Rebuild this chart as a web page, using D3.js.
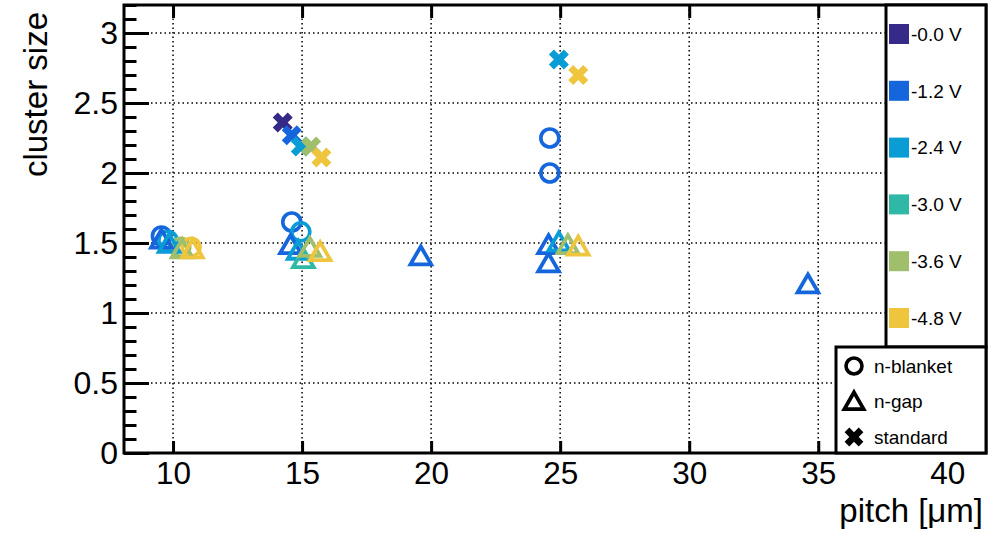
<!DOCTYPE html>
<html>
<head>
<meta charset="utf-8">
<script src="https://cdn.jsdelivr.net/npm/d3@7"></script>
<style>
  body { margin: 0; background: #fff; }
  svg { display: block; font-family: "Liberation Sans", Arial, sans-serif; }
</style>
</head>
<body>
<div id="chart"></div>
<script>
// bias voltages and their palette colours
const voltages = ["-0.0 V", "-1.2 V", "-2.4 V", "-3.0 V", "-3.6 V", "-4.8 V"];
const voltageColors = ["#352a87", "#1565dc", "#0a9cd4", "#2fb8a6", "#9fbf6c", "#f0c53e"];

// [pitch (um), cluster size, voltage index]
const nBlanket = [
    [9.55, 1.55, 1], [9.8, 1.52, 2], [10.3, 1.47, 4], [10.7, 1.47, 5],
    [14.6, 1.65, 1], [14.95, 1.58, 2],
    [24.6, 2.25, 1], [24.6, 2.0, 1]
];
const nGap = [
    [9.55, 1.51, 1], [9.85, 1.48, 2], [10.35, 1.44, 4], [10.75, 1.44, 5],
    [14.55, 1.47, 1], [14.85, 1.43, 2], [15.05, 1.37, 3], [15.3, 1.45, 4], [15.7, 1.42, 5],
    [19.6, 1.39, 1],
    [24.55, 1.47, 1], [24.55, 1.34, 1], [24.95, 1.49, 2], [25.3, 1.47, 4], [25.7, 1.46, 5],
    [34.6, 1.19, 1]
];
const standard = [
    [14.25, 2.36, 0], [14.6, 2.27, 1], [14.95, 2.19, 2], [15.35, 2.19, 4], [15.75, 2.11, 5],
    [24.95, 2.81, 2], [25.7, 2.70, 5]
];

const xTicks = [10, 15, 20, 25, 30, 35, 40];
const yTicks = [0, 0.5, 1, 1.5, 2, 2.5, 3];
const typeLabels = ["n-blanket", "n-gap", "standard"];

const W = 996, H = 533;
const frame = { left: 124, right: 986, top: 5, bottom: 453 };

const svg = d3.select("#chart").append("svg")
    .attr("width", W)
    .attr("height", H);

const x = d3.scaleLinear().domain([8.1, 41.5]).range([frame.left, frame.right]);
const y = d3.scaleLinear().domain([0, 3.2]).range([frame.bottom, frame.top]);
const color = d3.scaleOrdinal().domain(d3.range(voltages.length)).range(voltageColors);

// dotted grid
const grid = svg.append("g").attr("stroke", "#000").attr("stroke-width", 1.5)
    .attr("stroke-dasharray", "1.5,3");
grid.selectAll(".gx").data(xTicks).enter().append("line")
    .attr("x1", d => x(d)).attr("x2", d => x(d))
    .attr("y1", frame.top).attr("y2", frame.bottom);
grid.selectAll(".gy").data(yTicks.filter(d => d > 0)).enter().append("line")
    .attr("x1", frame.left).attr("x2", frame.right)
    .attr("y1", d => y(d)).attr("y2", d => y(d));

// axes (ticks pointing inwards, ROOT style)
const yMinor = d3.range(0, 3.21, 0.1).map(d => +d.toFixed(1));
svg.append("g").attr("transform", `translate(${frame.left},0)`)
    .call(d3.axisLeft(y).tickValues(yMinor).tickSize(-12.5).tickFormat(""))
    .call(g => g.select(".domain").remove())
    .call(g => g.selectAll("line").attr("stroke-width", 3));
svg.append("g").attr("transform", `translate(${frame.left},0)`)
    .call(d3.axisLeft(y).tickValues(yTicks).tickSize(-25).tickPadding(6).tickFormat(d3.format("")))
    .call(g => g.select(".domain").remove())
    .call(g => g.selectAll("line").attr("stroke-width", 3))
    .call(g => g.selectAll("text").attr("font-size", 32).attr("fill", "#000")
        .attr("font-family", "Liberation Sans, Arial, sans-serif"));

svg.append("g").attr("transform", `translate(0,${frame.bottom})`)
    .call(d3.axisBottom(x).tickValues(xTicks).tickSize(-12).tickPadding(9).tickFormat(d3.format("")))
    .call(g => g.select(".domain").remove())
    .call(g => g.selectAll("line").attr("stroke-width", 3))
    .call(g => g.selectAll("text").attr("font-size", 31.5).attr("fill", "#000")
        .attr("font-family", "Liberation Sans, Arial, sans-serif"));
svg.append("g").attr("transform", `translate(0,${frame.top})`)
    .call(d3.axisTop(x).tickValues(xTicks).tickSize(-13).tickFormat(""))
    .call(g => g.select(".domain").remove())
    .call(g => g.selectAll("line").attr("stroke-width", 3));

// markers
const markers = svg.append("g");
const circleSym = d3.symbol(d3.symbolCircle, 254);
const triSym = d3.symbol(d3.symbolTriangle, 185);
const xSym = d3.symbol(d3.symbolCross, 250);

markers.selectAll(".blanket").data(nBlanket).enter().append("path")
    .attr("d", circleSym)
    .attr("transform", d => `translate(${x(d[0])},${y(d[1])})`)
    .attr("fill", "none").attr("stroke", d => color(d[2])).attr("stroke-width", 3.6);
markers.selectAll(".gap").data(nGap).enter().append("path")
    .attr("d", triSym)
    .attr("transform", d => `translate(${x(d[0])},${y(d[1])})`)
    .attr("fill", "none").attr("stroke", d => color(d[2])).attr("stroke-width", 3.8);
markers.selectAll(".std").data(standard).enter().append("path")
    .attr("d", xSym)
    .attr("transform", d => `translate(${x(d[0])},${y(d[1])}) rotate(45)`)
    .attr("fill", d => color(d[2]));

// frame
svg.append("rect")
    .attr("x", frame.left).attr("y", frame.top)
    .attr("width", frame.right - frame.left).attr("height", frame.bottom - frame.top)
    .attr("fill", "none").attr("stroke", "#000").attr("stroke-width", 3);

// voltage palette box
const pal = svg.append("g");
pal.append("rect")
    .attr("x", 886).attr("y", frame.top).attr("width", frame.right - 886).attr("height", 347 - frame.top)
    .attr("fill", "#fff").attr("stroke", "#000").attr("stroke-width", 3);
const py = d3.scalePoint().domain(voltages).range([34, 318]);
pal.selectAll(".sw").data(voltages).enter().append("rect")
    .attr("x", 889).attr("y", d => py(d) - 10).attr("width", 20).attr("height", 20)
    .attr("fill", (d, i) => voltageColors[i]);
pal.selectAll(".lab").data(voltages).enter().append("text")
    .attr("x", 911).attr("y", d => py(d)).attr("dy", "0.36em")
    .attr("font-size", 19).text(d => d);

// marker type legend
const leg = svg.append("g");
leg.append("rect")
    .attr("x", 836).attr("y", 347).attr("width", frame.right - 836).attr("height", frame.bottom - 347)
    .attr("fill", "#fff").attr("stroke", "#000").attr("stroke-width", 3);
const ly = d3.scalePoint().domain(typeLabels).range([366, 437]);
leg.append("path").attr("d", d3.symbol(d3.symbolCircle, 200))
    .attr("transform", `translate(854,${ly("n-blanket")})`)
    .attr("fill", "none").attr("stroke", "#000").attr("stroke-width", 3.6);
leg.append("path").attr("d", d3.symbol(d3.symbolTriangle, 160))
    .attr("transform", `translate(854,${ly("n-gap") + 2})`)
    .attr("fill", "none").attr("stroke", "#000").attr("stroke-width", 3.8);
leg.append("path").attr("d", d3.symbol(d3.symbolCross, 220))
    .attr("transform", `translate(854,${ly("standard")}) rotate(45)`)
    .attr("fill", "#000");
leg.selectAll(".lt").data(typeLabels).enter().append("text")
    .attr("x", 874).attr("y", d => ly(d)).attr("dy", "0.36em")
    .attr("font-size", 19).text(d => d);

// axis titles
svg.append("text")
    .attr("x", 983).attr("y", 522).attr("text-anchor", "end")
    .attr("font-size", 33).text("pitch [μm]");
svg.append("text")
    .attr("transform", "translate(47,12) rotate(-90)")
    .attr("text-anchor", "end")
    .attr("font-size", 33).text("cluster size");
</script>
</body>
</html>
